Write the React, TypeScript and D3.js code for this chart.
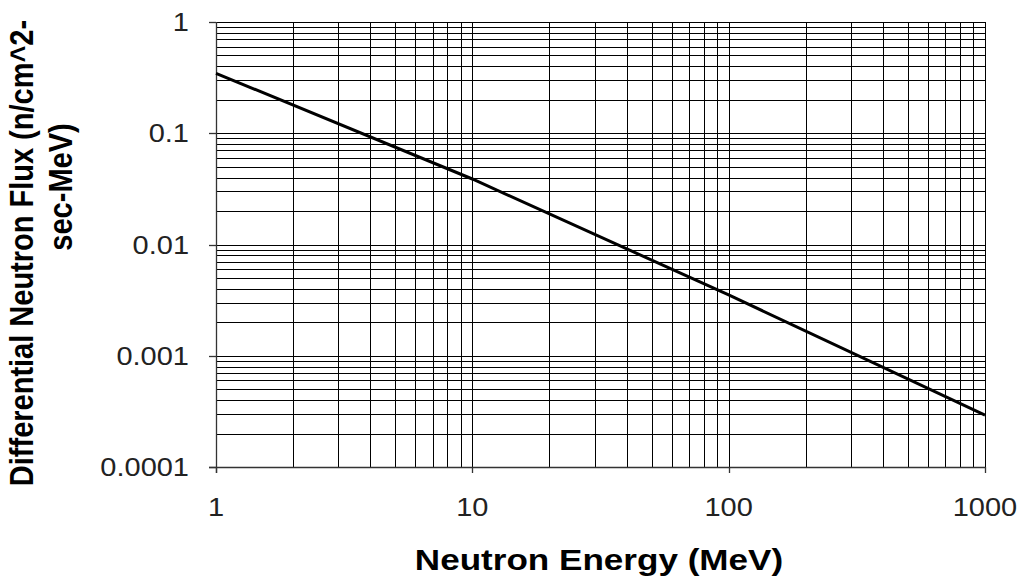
import * as d3 from 'd3';

// values
const energy = [1, 10, 100, 1000];
const flux = [0.346, 0.0388, 0.00352, 0.000293];
const xTicks = [1, 10, 100, 1000];
const xTickLabels = ['1', '10', '100', '1000'];
const yTicks = [1, 0.1, 0.01, 0.001, 0.0001];
const yTickLabels = ['1', '0.1', '0.01', '0.001', '0.0001'];
const xTitle = 'Neutron Energy (MeV)';
const yTitleLines = ['Differential Neutron Flux (n/cm^2-', 'sec-MeV)'];

const W = 1022;
const H = 579;
const left = 216;
const right = 985;
const top = 22;
const bottom = 467;
const stretch = 1.16; // the reference text is a bit wide
const font = '"Liberation Sans", Arial, sans-serif';

// minor grid values: 2..9 in every decade
const minors = (lo: number, hi: number) => {
  const out: number[] = [];
  for (let d = lo; d < hi; d *= 10) {
    for (let k = 2; k <= 9; k++) out.push(d * k);
  }
  return out;
};

const App = () => {
  const x = d3.scaleLog().domain([1, 1000]).range([left, right]);
  const y = d3.scaleLog().domain([0.0001, 1]).range([bottom, top]);

  const points = energy.map((e, i) => [e, flux[i]] as [number, number]);
  const line = d3
    .line<[number, number]>()
    .x(d => x(d[0]))
    .y(d => y(d[1]));

  const px = (v: number) => Math.round(v) + 0.5;

  return (
    <svg width={W} height={H} style={{ display: 'block', position: 'absolute', left: 0, top: 0 }}>
      <rect width={W} height={H} fill="#fff" />

      {/* horizontal grid */}
      {[...yTicks, ...minors(0.0001, 1)].map((v, i) => (
        <line key={'h' + i} x1={left} x2={right} y1={px(y(v))} y2={px(y(v))} stroke="#000" strokeWidth={1} />
      ))}
      {/* vertical grid */}
      {[...xTicks, ...minors(1, 1000)].map((v, i) => (
        <line key={'v' + i} x1={px(x(v))} x2={px(x(v))} y1={top} y2={bottom} stroke="#000" strokeWidth={1} />
      ))}

      {/* axes and major ticks */}
      <line x1={px(left)} x2={px(left)} y1={top} y2={bottom + 6} stroke="#333" strokeWidth={1.3} />
      <line x1={left - 7} x2={right} y1={px(bottom)} y2={px(bottom)} stroke="#333" strokeWidth={1.3} />
      {yTicks.map((v, i) => (
        <line key={'yt' + i} x1={left - 7} x2={left} y1={px(y(v))} y2={px(y(v))} stroke="#333" strokeWidth={1.3} />
      ))}
      {xTicks.map((v, i) => (
        <line key={'xt' + i} x1={px(x(v))} x2={px(x(v))} y1={bottom} y2={bottom + 6} stroke="#333" strokeWidth={1.3} />
      ))}

      {/* data */}
      <path d={line(points) ?? ''} fill="none" stroke="#000" strokeWidth={3} />

      {/* tick labels */}
      {yTicks.map((v, i) => (
        <text
          key={'yl' + i}
          transform={`translate(189,${y(v) + 9}) scale(${stretch},1)`}
          textAnchor="end"
          fontFamily={font}
          fontSize={25}
          fill="#222"
        >
          {yTickLabels[i]}
        </text>
      ))}
      {xTicks.map((v, i) => (
        <text
          key={'xl' + i}
          transform={`translate(${x(v)},516) scale(${stretch},1)`}
          textAnchor="middle"
          fontFamily={font}
          fontSize={25}
          fill="#222"
        >
          {xTickLabels[i]}
        </text>
      ))}

      {/* axis titles */}
      <text
        transform={`translate(599,570) scale(1.21,1)`}
        textAnchor="middle"
        fontFamily={font}
        fontSize={29}
        fontWeight="bold"
        fill="#000"
      >
        {xTitle}
      </text>
      <text
        transform={`translate(33,253) scale(${stretch},1) rotate(-90)`}
        textAnchor="middle"
        fontFamily={font}
        fontSize={29}
        fontWeight="bold"
        fill="#000"
      >
        {yTitleLines[0]}
      </text>
      <text
        transform={`translate(72,187) scale(${stretch},1) rotate(-90)`}
        textAnchor="middle"
        fontFamily={font}
        fontSize={29}
        fontWeight="bold"
        fill="#000"
      >
        {yTitleLines[1]}
      </text>
    </svg>
  );
};

export default App;
